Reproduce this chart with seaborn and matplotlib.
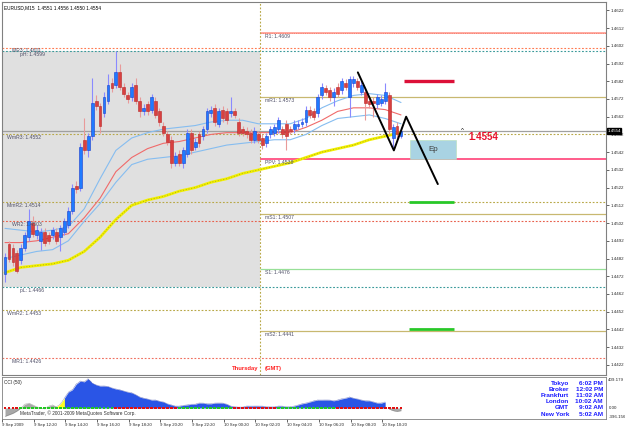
import numpy as np
import pandas as pd
import matplotlib
matplotlib.use("Agg")
import matplotlib.pyplot as plt
import matplotlib.transforms as mtransforms
from matplotlib.patches import Rectangle
import seaborn as sns

sns.set_style("white")
plt.rcParams['font.family'] = ['Liberation Sans', 'DejaVu Sans']

# ---------------- data ----------------
title_text = "EURUSD,M15  1.4551 1.4556 1.4550 1.4554"

opens = [1.4473,1.4490,1.4488,1.4485,1.4481,1.4488,1.4494,1.4502,1.4495,1.4492,
         1.4497,1.4495,1.4495,1.4497,1.4494,1.4497,1.4501,1.4509,1.4523,1.4522,
         1.4549,1.4543,1.4551,1.4571,1.4568,1.4564,1.4571,1.4581,1.4580,1.4587,
         1.4579,1.4574,1.4573,1.4580,1.4571,1.4565,1.4569,1.4566,1.4571,1.4565,
         1.4557,1.4552,1.4549,1.4536,1.4541,1.4536,1.4541,1.4553,1.4545,1.4552,
         1.4551,1.4555,1.4564,1.4567,1.4558,1.4566,1.4565,1.4564,1.4565,1.4559,
         1.4555,1.4554,1.4553,1.4549,1.4552,1.4550,1.4547,1.4552,1.4553,1.4555,
         1.4555,1.4558,1.4555,1.4555,1.4557,1.4558,1.4559,1.4566,1.4565,1.4564,
         1.4574,1.4578,1.4577,1.4573,1.4579,1.4577,1.4581,1.4573,1.4581,1.4582,
         1.4576,1.4576,1.4571,1.4571,1.4569,1.4570,1.4571,1.4574,1.4550,1.4557,
         1.4551]
closes = [1.4483,1.4482,1.4480,1.4475,1.4488,1.4495,1.4503,1.4496,1.4498,1.4497,
          1.4491,1.4492,1.4498,1.4492,1.4499,1.4503,1.4509,1.4522,1.4521,1.4545,
          1.4543,1.4551,1.4570,1.4568,1.4557,1.4573,1.4580,1.4578,1.4587,1.4579,
          1.4575,1.4572,1.4579,1.4571,1.4565,1.4567,1.4565,1.4573,1.4563,1.4559,
          1.4553,1.4548,1.4536,1.4540,1.4536,1.4543,1.4553,1.4543,1.4548,1.4547,
          1.4555,1.4565,1.4566,1.4559,1.4565,1.4561,1.4560,1.4565,1.4563,1.4553,
          1.4553,1.4552,1.4549,1.4554,1.4549,1.4546,1.4551,1.4555,1.4556,1.4560,
          1.4552,1.4551,1.4554,1.4558,1.4558,1.4559,1.4566,1.4563,1.4562,1.4573,
          1.4579,1.4576,1.4573,1.4576,1.4575,1.4582,1.4579,1.4583,1.4583,1.4579,
          1.4580,1.4570,1.4569,1.4570,1.4573,1.4572,1.4576,1.4555,1.4556,1.4552,
          1.4554]
highs = [1.4485,1.4492,1.4490,1.4487,1.4490,1.4497,1.4510,1.4506,1.4501,1.4499,
         1.4499,1.4497,1.4500,1.4499,1.4501,1.4505,1.4511,1.4524,1.4526,1.4547,
         1.4561,1.4553,1.4584,1.4574,1.4570,1.4576,1.4586,1.4584,1.4599,1.4592,
         1.4581,1.4576,1.4581,1.4584,1.4573,1.4569,1.4571,1.4575,1.4573,1.4567,
         1.4559,1.4554,1.4551,1.4542,1.4543,1.4545,1.4555,1.4555,1.4550,1.4554,
         1.4557,1.4567,1.4568,1.4569,1.4567,1.4568,1.4567,1.4573,1.4567,1.4561,
         1.4557,1.4556,1.4555,1.4556,1.4554,1.4552,1.4553,1.4557,1.4558,1.4562,
         1.4557,1.4560,1.4557,1.4560,1.4560,1.4561,1.4568,1.4568,1.4567,1.4575,
         1.4581,1.4580,1.4579,1.4578,1.4581,1.4584,1.4583,1.4585,1.4585,1.4584,
         1.4582,1.4578,1.4573,1.4573,1.4575,1.4574,1.4581,1.4576,1.4558,1.4559,
         1.4556]
lows = [1.4469,1.4480,1.4478,1.4474,1.4479,1.4486,1.4492,1.4494,1.4493,1.4487,
        1.4489,1.4490,1.4493,1.4490,1.4486,1.4495,1.4499,1.4507,1.4519,1.4520,
        1.4541,1.4539,1.4549,1.4566,1.4553,1.4562,1.4569,1.4576,1.4578,1.4577,
        1.4573,1.4570,1.4571,1.4569,1.4562,1.4563,1.4563,1.4564,1.4561,1.4557,
        1.4551,1.4546,1.4533,1.4534,1.4534,1.4533,1.4539,1.4541,1.4543,1.4545,
        1.4549,1.4553,1.4562,1.4557,1.4556,1.4559,1.4558,1.4562,1.4561,1.4551,
        1.4551,1.4550,1.4547,1.4547,1.4547,1.4544,1.4545,1.4550,1.4551,1.4553,
        1.4550,1.4543,1.4552,1.4553,1.4555,1.4556,1.4557,1.4561,1.4560,1.4562,
        1.4572,1.4574,1.4571,1.4568,1.4573,1.4575,1.4577,1.4562,1.4579,1.4577,
        1.4574,1.4560,1.4567,1.4562,1.4567,1.4568,1.4569,1.4552,1.4545,1.4550,
        1.4550]

ma_bars = list(range(0, 101, 4))
ma_slow = [1.4474,1.4477,1.4478,1.4479,1.4481,1.4486,1.4494,1.4504,1.4512,1.4515,
           1.4517,1.4520,1.4522,1.4525,1.4527,1.4530,1.4532,1.4534,1.4536,1.4539,
           1.4542,1.4544,1.4546,1.4549,1.4551,1.4553]
ma_mid = [1.4491,1.4491,1.4492,1.4494,1.4496,1.4505,1.4516,1.4531,1.4539,1.4544,
          1.4547,1.4548,1.4550,1.4552,1.4553,1.4553,1.4553,1.4553,1.4553,1.4556,
          1.4560,1.4565,1.4567,1.4567,1.4566,1.4563]
band_up = [1.4499,1.4498,1.4497,1.4498,1.4500,1.4510,1.4527,1.4543,1.4550,1.4553,
           1.4555,1.4556,1.4557,1.4559,1.4560,1.4560,1.4558,1.4558,1.4558,1.4561,
           1.4567,1.4571,1.4574,1.4575,1.4574,1.4570]
band_dn = [1.4482,1.4484,1.4486,1.4487,1.4492,1.4503,1.4513,1.4525,1.4535,1.4538,
           1.4539,1.4540,1.4542,1.4544,1.4546,1.4547,1.4548,1.4549,1.4549,1.4552,
           1.4557,1.4561,1.4562,1.4563,1.4561,1.4558]

# level lines spanning the whole chart (weekly / monthly / previous day)
wide_names = ["MR3", "pH", "WmR3", "MmR2", "WR2", "pL", "WmR2", "MR1"]
wide_values = [1.4601, 1.4599, 1.4552, 1.4514, 1.4503, 1.4466, 1.4453, 1.4426]
# daily pivot levels (drawn from the day separator)
day_names = ["R1", "mR1", "PPV", "mS1", "S1", "mS2"]
day_values = [1.4609, 1.4573, 1.4538, 1.4507, 1.4476, 1.4441]

prev_high, prev_low = 1.4599, 1.4466
current_price = 1.4554
day_start_bar = 64.4

zz_bars = [89.1, 98.2, 101.3, 109.3]
zz_prices = [1.4587, 1.4543, 1.4562, 1.4524]
target_red = 1.4582
target_green = [1.4514, 1.4442]
target_span = [100.8, 113.4]
ep_span = [102.3, 113.9]
ep_prices = [1.4538, 1.4549]

time_labels = ["9 Sep 2009", "9 Sep 12:20", "9 Sep 14:20", "9 Sep 16:20", "9 Sep 18:20",
               "9 Sep 20:20", "9 Sep 22:20", "10 Sep 00:20", "10 Sep 02:20",
               "10 Sep 04:20", "10 Sep 06:20", "10 Sep 08:20", "10 Sep 10:20"]

cci = [-110,-90,-70,-40,0,50,65,40,15,0,
       -10,25,40,15,55,130,210,240,315,355,
       345,385,330,305,290,290,285,265,250,240,
       225,210,200,175,145,130,120,105,105,90,
       80,55,40,25,25,35,40,50,50,65,
       65,55,55,65,65,65,50,25,15,12,
       12,25,25,25,25,25,15,15,15,25,
       25,15,15,25,40,55,65,80,95,105,
       105,105,105,95,105,120,130,145,130,120,
       105,95,95,80,65,65,80,-15,-35,-45,
       -35]
cci_zone = "g" * 14 + "yy" + "b" * 81 + "g" * 4
cci_dots = "RRRR" + "G" * 24 + "R" * 16 + "G" * 14 + "R" * 11 + "G" * 15 + "R" * 17
cci_max_label, cci_min_label = "409.179", "-396.156"

clock_names = ["Tokyo", "Broker", "Frankfurt", "London", "GMT", "New York"]
clock_times = ["6:02 PM", "12:02 PM", "11:02 AM", "10:02 AM", "9:02 AM", "5:02 AM"]

# ---------------- figure ----------------
W, H = 625, 429
fig = plt.figure(figsize=(W / 100, H / 100), dpi=100)
fig.patch.set_facecolor("white")


def box(x0, y0, x1, y1):
    return [x0 / W, 1 - y1 / H, (x1 - x0) / W, (y1 - y0) / H]


ax = fig.add_axes(box(2, 2, 606, 375))
ax2 = fig.add_axes(box(2, 377, 606, 419), sharex=ax)

x = np.arange(len(closes))
o = np.array(opens); c = np.array(closes); hi = np.array(highs); lo = np.array(lows)
bull = c >= o

XMIN, XMAX = -0.76, 151.77
ax.set_xlim(XMIN, XMAX)
ax.set_ylim(1.44163, 1.46267)

# previous-day shaded box
ax.fill_between([XMIN, day_start_bar], prev_low, prev_high, color="#e0e0e0", lw=0, zorder=0)

dot = (0, (1.6, 1.6))
wide_style = {"MR3": "#ff7a50", "pH": "#3a9a9a", "WmR3": "#b8a848", "MmR2": "#b8a848",
              "WR2": "#e8604c", "pL": "#3a9a9a", "WmR2": "#b8a848", "MR1": "#f07060"}
wide_lab_x = {"MR3": 1.8, "pH": 3.8, "WmR3": 0.5, "MmR2": 0.5, "WR2": 1.8,
              "pL": 3.8, "WmR2": 0.5, "MR1": 1.8}
lab_off = mtransforms.offset_copy(ax.transData, fig=fig, x=0, y=-0.6, units="points")
for n, v in zip(wide_names, wide_values):
    ax.hlines(v, XMIN, XMAX, colors=wide_style[n], linestyles=dot, lw=0.8, zorder=1)
    ax.text(wide_lab_x[n], v, f"{n}: {v:.4f}", fontsize=3.7, color="#505068",
            va="top", ha="left", transform=lab_off, zorder=6)

day_style = {"R1": ("#ffaaa0", 1.4), "mR1": ("#c8b870", 0.9), "PPV": ("#ff5c8a", 1.4),
             "mS1": ("#c8b870", 0.9), "S1": ("#98e098", 0.9), "mS2": ("#c8b870", 0.9)}
for n, v in zip(day_names, day_values):
    col, lw = day_style[n]
    ax.hlines(v, day_start_bar, XMAX, colors=col, lw=lw, zorder=1)
    ax.text(day_start_bar + 1.3, v, f"{n}: {v:.4f}", fontsize=3.7, color="#505068",
            va="top", ha="left", transform=lab_off, zorder=6)
ax.hlines(1.4609, day_start_bar, XMAX, colors="#f07060", linestyles=dot, lw=0.5, zorder=1)

ax.hlines(current_price, XMIN, XMAX, colors="#a0a0a0", lw=0.9, zorder=1)
ax.axvline(day_start_bar, color="#b8a848", ls=dot, lw=0.8, zorder=1)

# moving averages / envelope
ma_df = pd.DataFrame({"bar": ma_bars, "slow": ma_slow, "mid": ma_mid, "up": band_up, "dn": band_dn})
sns.lineplot(data=ma_df, x="bar", y="up", ax=ax, color="#86bdf0", lw=0.8, zorder=2)
sns.lineplot(data=ma_df, x="bar", y="dn", ax=ax, color="#86bdf0", lw=0.8, zorder=2)
sns.lineplot(data=ma_df, x="bar", y="mid", ax=ax, color="#f06a6a", lw=0.8, zorder=2)
sns.lineplot(data=ma_df, x="bar", y="slow", ax=ax, color="#f2f000", lw=2.0, zorder=2)
sns.lineplot(data=ma_df, x="bar", y="slow", ax=ax, color="#9a9a20", lw=0.5,
             ls=(0, (1.5, 2.5)), zorder=2)

# candles
wick_cols = np.where(bull, "#8a8aff", "#e89a9a")
body_cols = np.where(bull, "#1f7bff", "#d84040")
edge_cols = np.where(bull, "#1a3ccc", "#b82828")
ax.vlines(x, lo, hi, colors=wick_cols, lw=0.8, zorder=3)
ax.bar(x, np.maximum(np.abs(c - o), 0.00004), bottom=np.minimum(o, c), width=0.72,
       color=body_cols, edgecolor=edge_cols, linewidth=0.4, zorder=4)

# drawn objects
ax.add_patch(Rectangle((ep_span[0], ep_prices[0]), ep_span[1] - ep_span[0],
                       ep_prices[1] - ep_prices[0], facecolor="#a9d3e3", edgecolor="#b8e0b8",
                       lw=0.4, zorder=2))
ax.text(np.mean(ep_span), np.mean(ep_prices), "Ep", fontsize=5.8, color="#404040",
        ha="center", va="center", zorder=6)
ax.hlines(target_red, target_span[0], target_span[1], colors="#dc1038", lw=2.4, zorder=5)
for g in target_green:
    ax.hlines(g, target_span[0] + 1.2, target_span[1], colors="#28c828", lw=2.0, zorder=5)
zz_df = pd.DataFrame({"bar": zz_bars, "price": zz_prices})
sns.lineplot(data=zz_df, x="bar", y="price", ax=ax, color="black", lw=1.4, sort=False, zorder=6)
ax.text(115.4, current_price, "^", fontsize=4.5, color="black", ha="center", va="center", zorder=6)
ax.text(116.9, 1.45505, f"{current_price:.4f}", fontsize=7, color="#e8102c",
        fontweight="bold", ha="left", va="center", zorder=6)

ax.text(63.9, 1.44202, "Thursday", fontsize=4.2, color="#ff2020", fontweight="bold",
        ha="right", va="center", zorder=6)
ax.text(65.7, 1.44202, "(GMT)", fontsize=4.2, color="#ff2020", fontweight="bold",
        ha="left", va="center", zorder=6)
ax.text(0.004, 0.99, title_text, transform=ax.transAxes, fontsize=3.4, color="black",
        ha="left", va="top", zorder=6)

# right price axis
ax.yaxis.tick_right()
price_ticks = np.round(np.arange(1.4422, 1.46225, 0.001), 4)
ax.set_yticks(price_ticks)
ax.set_yticklabels([f"{t:.4f}" for t in price_ticks])
ax.tick_params(axis="y", labelsize=3.2, length=2, width=0.5, pad=1, right=True, left=False)
ax.tick_params(axis="x", bottom=False, labelbottom=False)
ax.set_xlabel(""); ax.set_ylabel("")
ax.text(1.002, current_price, f"{current_price:.4f}",
        transform=mtransforms.blended_transform_factory(ax.transAxes, ax.transData),
        fontsize=3.2, color="white", ha="left", va="center", zorder=7,
        bbox=dict(boxstyle="square,pad=0.15", fc="black", ec="black"))
for s in ax.spines.values():
    s.set_color("#808080"); s.set_linewidth(0.8)

# ---------------- CCI panel ----------------
ax2.set_ylim(-145, 409)
cc = np.array(cci, dtype=float)
zone_cols = {"g": "#a8a8a8", "y": "#ffff20", "b": "#2a55e6"}
runs = []
start = 0
for i in range(1, len(cci_zone) + 1):
    if i == len(cci_zone) or cci_zone[i] != cci_zone[start]:
        runs.append((start, i - 1, cci_zone[start])); start = i
for a, b, z in runs:
    a0 = max(a - 1, 0) if z != "g" else a
    ax2.fill_between(x[a0:b + 1], 0, cc[a0:b + 1], color=zone_cols[z], lw=0, zorder=1)
    ax2.plot(x[a0:b + 1], cc[a0:b + 1], color="#1a2a9a" if z == "b" else "#707070",
             lw=0.4, ls=(0, (1, 1)), zorder=2)
dot_cols = ["#e01010" if d == "R" else "#22c822" for d in cci_dots]
ax2.scatter(x, np.zeros(len(x)), c=dot_cols, marker="s", s=4.2, lw=0, zorder=3)

ax2.set_yticks([])
ax2.text(1.004, 0.0, "0.00", transform=mtransforms.blended_transform_factory(ax2.transAxes, ax2.transData),
         fontsize=3.2, ha="left", va="center")
ax2.text(1.004, 0.93, cci_max_label, transform=ax2.transAxes, fontsize=3.2, ha="left", va="center")
ax2.text(1.004, 0.05, cci_min_label, transform=ax2.transAxes, fontsize=3.2, ha="left", va="center")
ax2.text(0.004, 0.86, "CCI (50)", transform=ax2.transAxes, fontsize=3.4, ha="left", va="center")
ax2.text(0.03, 0.13, "MetaTrader, \u00a9 2001-2009 MetaQuotes Software Corp.", transform=ax2.transAxes,
         fontsize=3.4, color="#303030", ha="left", va="center", zorder=4)

row_y = [0.857, 0.714, 0.571, 0.417, 0.274, 0.119]
for n, t, yy in zip(clock_names, clock_times, row_y):
    ax2.text(0.9386, yy, n, transform=ax2.transAxes, fontsize=4.6, fontweight="bold",
             color="#1a1aff", ha="right", va="center", zorder=5)
    ax2.text(0.995, yy, t, transform=ax2.transAxes, fontsize=4.6, fontweight="bold",
             color="#1a1aff", ha="right", va="center", zorder=5)

tick_pos = np.arange(len(time_labels)) * 8 - 0.75
ax2.set_xticks(tick_pos)
ax2.set_xticklabels(time_labels, ha="left")
ax2.tick_params(axis="x", labelsize=3.1, length=2, width=0.5, pad=1, bottom=True)
ax2.set_xlabel(""); ax2.set_ylabel("")
for s in ax2.spines.values():
    s.set_color("#808080"); s.set_linewidth(0.6)
ax2.spines["top"].set_linestyle((0, (2, 1)))
ax2.spines["bottom"].set_linestyle((0, (2, 1)))

fig.savefig("out.png", dpi=100, facecolor="white")
